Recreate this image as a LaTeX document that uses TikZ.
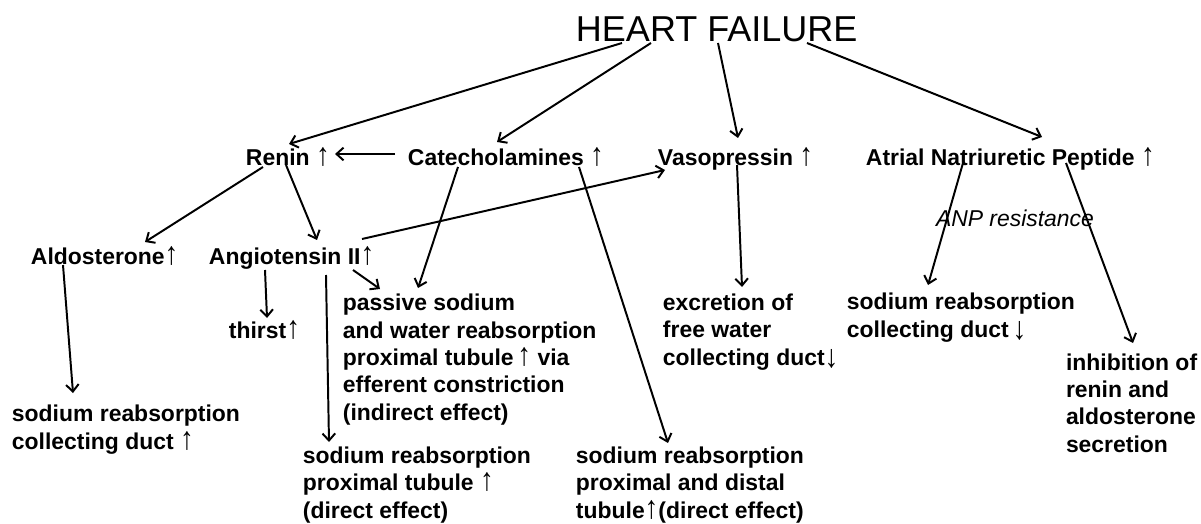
\documentclass[tikz,border=0pt]{standalone}
\usepackage{fontspec}
\setmainfont{Liberation Sans}
\usetikzlibrary{arrows.meta,calc}
\newcommand{\upar}{\scalebox{1.2}[1.4]{↑}}
\newcommand{\dnar}{\raisebox{-2pt}{\scalebox{1.2}[1.4]{↓}}}
\begin{document}
\begin{tikzpicture}[x=0.025cm, y=-0.025cm, line width=1.4pt,
  txt/.style={anchor=base west, inner sep=0pt, align=left, font=\bfseries\fontsize{16.3}{19.4}\selectfont},
  arr/.style={-{Straight Barb[length=5pt,width=9pt]}}]
\useasboundingbox (0,0) rectangle (1201,524);
% multi-line nodes sit on the baseline of their last line
\node[anchor=base west, inner sep=0pt, font=\fontsize{25.6}{30}\selectfont] (HF) at (575,42) {HEART FAILURE};
\node[txt] (Ren) at (245,166) {Renin \upar};
\node[txt] (Cat) at (407,166) {Catecholamines \upar};
\node[txt] (Vas) at (657,166) {Vasopressin \upar};
\node[txt] (ANP) at (865,166) {Atrial Natriuretic Peptide \upar};
\node[txt] (Ald) at (30,265) {Aldosterone\upar};
\node[txt] (Ang) at (208,265) {Angiotensin II\upar};
\node[txt] (Thi) at (228,338) {thirst\upar};
\node[txt] (Pas) at (342,420) {passive sodium\\and water reabsorption\\proximal tubule\,\upar\ via\\efferent constriction\\(indirect effect)};
\node[txt] (Exc) at (662,365) {excretion of\\free water\\collecting duct\dnar};
\node[txt] (NaC) at (846,337) {sodium reabsorption\\collecting duct\,\dnar};
\node[txt] (Inh) at (1065,452) {inhibition of\\renin and\\aldosterone\\secretion};
\node[txt] (NaA) at (11,449) {sodium reabsorption\\collecting duct \upar};
\node[txt] (NaP) at (302,518) {sodium reabsorption\\proximal tubule \upar\\(direct effect)};
\node[txt] (NaD) at (575,518) {sodium reabsorption\\proximal and distal\\tubule\upar(direct effect)};
\node[anchor=base west, inner sep=0pt, font=\itshape\fontsize{16.3}{19.4}\selectfont] (Res) at (935,227) {ANP resistance};
% heart failure
\draw[arr] ($(HF.base west)+(47,1)$) -- ($(Ren.base west)+(44,-22)$);
\draw[arr] ($(HF.base west)+(76,1)$) -- ($(Cat.base west)+(90,-24)$);
\draw[arr] ($(HF.base west)+(143,1)$) -- ($(Vas.base west)+(81,-28)$);
\draw[arr] ($(HF.base west)+(232,1)$) -- ($(ANP.base west)+(177,-29)$);
% renin-angiotensin
\draw[arr] ($(Cat.base west)+(-12,-12)$) -- ($(Ren.base west)+(90,-12)$);
\draw[arr] ($(Ren.base west)+(18,1)$) -- ($(Ald.base west)+(115,-23)$);
\draw[arr] ($(Ren.base west)+(41,-1)$) -- ($(Ang.base west)+(109,-25)$);
\draw[arr] ($(Ang.base west)+(154,-26)$) -- ($(Vas.base west)+(8,4)$);
\draw[arr] ($(Ang.base west)+(57,5)$) -- ($(Thi.base west)+(39,-20)$);
\draw[arr] ($(Ang.base west)+(118,10)$) -- ($(NaP.base west)+(27,-76)$);
\draw[arr] ($(Ang.base west)+(145,5)$) -- ($(Pas.base west)+(38,-131)$);
\draw[arr] ($(Ald.base west)+(33,0)$) -- ($(NaA.base west)+(62,-56)$);
% catecholamines
\draw[arr] ($(Cat.base west)+(51,1)$) -- ($(Pas.base west)+(76,-132)$);
\draw[arr] ($(Cat.base west)+(172,1)$) -- ($(NaD.base west)+(93,-75)$);
% vasopressin, ANP
\draw[arr] ($(Vas.base west)+(80,-1)$) -- ($(Exc.base west)+(80,-78)$);
\draw[arr] ($(ANP.base west)+(98,-3)$) -- ($(NaC.base west)+(82,-52)$);
\draw[arr] ($(ANP.base west)+(201,-3)$) -- ($(Inh.base west)+(68,-109)$);
\end{tikzpicture}
\end{document}
